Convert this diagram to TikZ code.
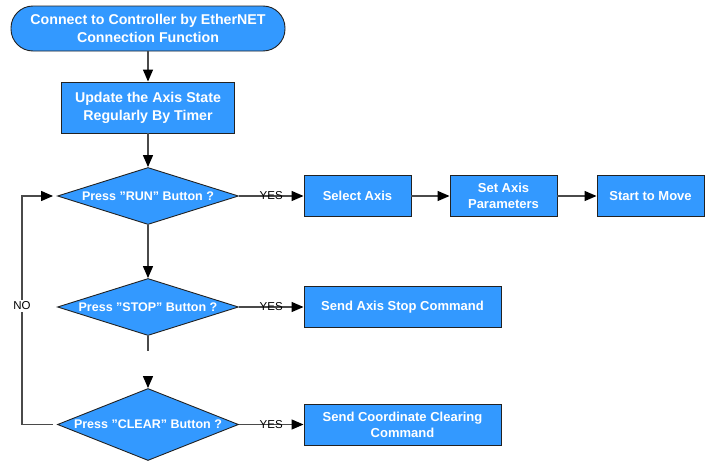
\documentclass[tikz,border=0pt]{standalone}
\usepackage{fontspec}
\setmainfont{Liberation Sans}
\usetikzlibrary{shapes.geometric,arrows.meta}
\definecolor{boxblue}{HTML}{3399FF}
\definecolor{edgecol}{HTML}{222222}
\definecolor{conncol}{HTML}{4A4A4A}
\begin{document}
\begin{tikzpicture}[x=1pt,y=-1pt,
  base/.style={draw=edgecol, fill=boxblue, line width=0.9pt, text=white, align=center, inner sep=0pt},
  term/.style={base, rounded corners=22pt, minimum width=274pt, minimum height=45pt, font=\fontsize{14.2}{18}\selectfont\bfseries},
  proc/.style={base, minimum width=#1, minimum height=41pt, font=\fontsize{13}{16}\selectfont\bfseries},
  bigproc/.style={base, minimum width=173pt, minimum height=51pt, font=\fontsize{14.2}{18}\selectfont\bfseries},
  decision/.style={base, diamond, minimum width=181pt, minimum height=#1, font=\fontsize{12.5}{15}\selectfont\bfseries},
  conn/.style={draw=conncol, line width=1.3pt},
  arr/.style={conn, -{Triangle[length=12pt,width=10pt,color=black]}},
  lbl/.style={font=\fontsize{11.5}{13}\selectfont, text=black, inner sep=0pt},
  nolbl/.style={lbl, fill=white, inner sep=2pt}
]
\useasboundingbox (0,0) rectangle (721,463);

\node[term] (t) at (148,28.5) {Connect to Controller by EtherNET\\Connection Function};
\node[bigproc] (u) at (148,107.5) {Update the Axis State\\Regularly By Timer};

\node[decision=57pt] (d1) at (148,196) {\makebox[0pt]{Press "RUN" Button ?}};
\node[decision=57pt] (d2) at (148,307) {\makebox[0pt]{Press "STOP" Button ?}};
\node[decision=72pt] (d3) at (148,424.5) {\makebox[0pt]{Press "CLEAR" Button ?}};

\node[proc=107pt] (s1) at (357.5,196) {Select Axis};
\node[proc=107pt] (s2) at (503.5,196) {Set Axis\\Parameters};
\node[proc=107pt] (s3) at (650.5,196) {Start to Move};

\node[proc=197pt] (stop) at (402.5,307) {Send Axis Stop Command};
\node[proc=197pt] (clr) at (402.5,424.5) {Send Coordinate Clearing\\Command};

\draw[arr] (t) -- (u);
\draw[arr] (u) -- (d1);
\draw[arr] (d1) -- node[lbl]{YES} (s1);
\draw[arr] (s1) -- (s2);
\draw[arr] (s2) -- (s3);
\draw[arr] (d1) -- (d2);
\draw[arr] (d2) -- node[lbl]{YES} (stop);
\draw[arr] (d3) -- node[lbl]{YES} (clr);

\coordinate (gapend) at (148,351);
\coordinate (gapstart) at (148,376);
\draw[conn] (d2.south) -- (gapend);
\draw[arr] (gapstart) -- (d3.north);

\coordinate (nb) at (22,424.5);
\coordinate (nt) at (22,196);
\draw[arr, shorten <=4pt, shorten >=4pt] (d3.west) -- (nb) -- node[nolbl, pos=0.52]{NO} (nt) -- (d1.west);
\end{tikzpicture}
\end{document}
